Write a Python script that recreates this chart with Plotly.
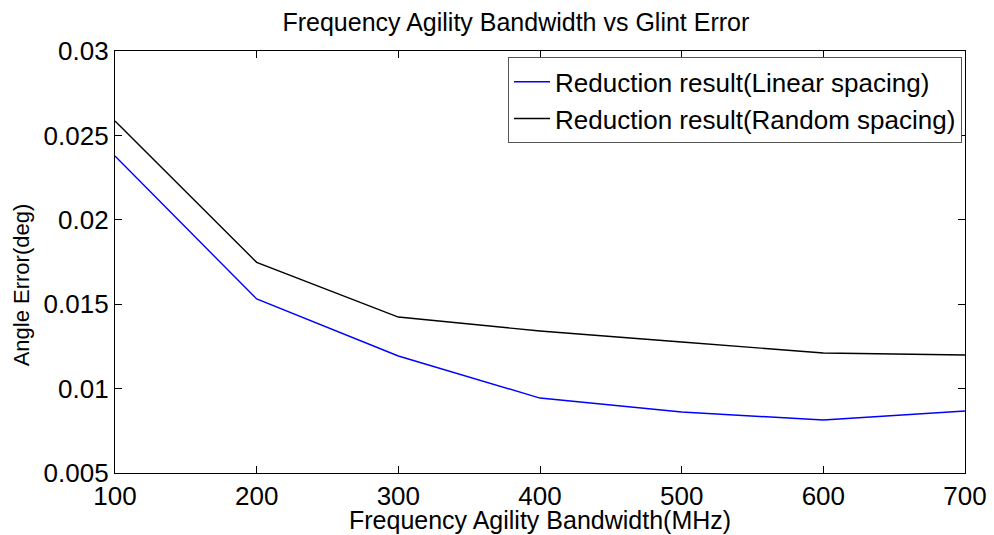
import plotly.graph_objects as go

bandwidth = [100, 200, 300, 400, 500, 600, 700]
linear_err = [0.02378, 0.01531, 0.01193, 0.00944, 0.00861, 0.00814, 0.00867]
random_err = [0.02585, 0.01748, 0.01424, 0.01341, 0.01276, 0.01211, 0.01199]
x_ticks = [100, 200, 300, 400, 500, 600, 700]
y_ticks = [0.005, 0.01, 0.015, 0.02, 0.025, 0.03]
y_labels = ["0.005", "0.01", "0.015", "0.02", "0.025", "0.03"]

font = "Liberation Sans, Arial, sans-serif"

fig = go.Figure()
fig.add_trace(go.Scatter(x=bandwidth, y=linear_err, mode="lines",
                         line=dict(color="#0000ff", width=1.4),
                         name="Reduction result(Linear spacing)"))
fig.add_trace(go.Scatter(x=bandwidth, y=random_err, mode="lines",
                         line=dict(color="#000000", width=1.4),
                         name="Reduction result(Random spacing)"))

axis_common = dict(showline=True, linecolor="black", linewidth=1.3, mirror="ticks",
                   ticks="inside", ticklen=7, tickwidth=1, tickcolor="black",
                   showgrid=False, zeroline=False, automargin=False,
                   tickfont=dict(family=font, size=26, color="black"))

fig.update_layout(
    width=994, height=535,
    margin=dict(l=115, r=29, t=51, b=62),
    paper_bgcolor="white", plot_bgcolor="white",
    title=dict(text="Frequency Agility Bandwidth vs Glint Error", x=0.519, xanchor="center",
               y=0.958, yanchor="middle",
               font=dict(family=font, size=25, color="black")),
    xaxis=dict(range=[100, 700], tickvals=x_ticks, ticktext=[str(v) for v in x_ticks],
               **axis_common),
    yaxis=dict(range=[0.005, 0.03], tickvals=y_ticks, ticktext=y_labels,
               **axis_common),
    legend=dict(x=0.9965, y=0.985, xanchor="right", yanchor="top",
                bgcolor="white", bordercolor="#555555", borderwidth=1,
                font=dict(family=font, size=26, color="black"),
                itemwidth=36, tracegroupgap=0),
    showlegend=True,
    annotations=[
        dict(text="Angle Error(deg)", textangle=-90, xref="paper", yref="paper",
             x=-0.109, y=0.4455, xanchor="center", yanchor="middle",
             showarrow=False, font=dict(family=font, size=22, color="black")),
        dict(text="Frequency Agility Bandwidth(MHz)", xref="paper", yref="paper",
             x=0.5, y=-0.1114, xanchor="center", yanchor="middle",
             showarrow=False, font=dict(family=font, size=25, color="black")),
    ],
)

fig.write_html("out.html")
